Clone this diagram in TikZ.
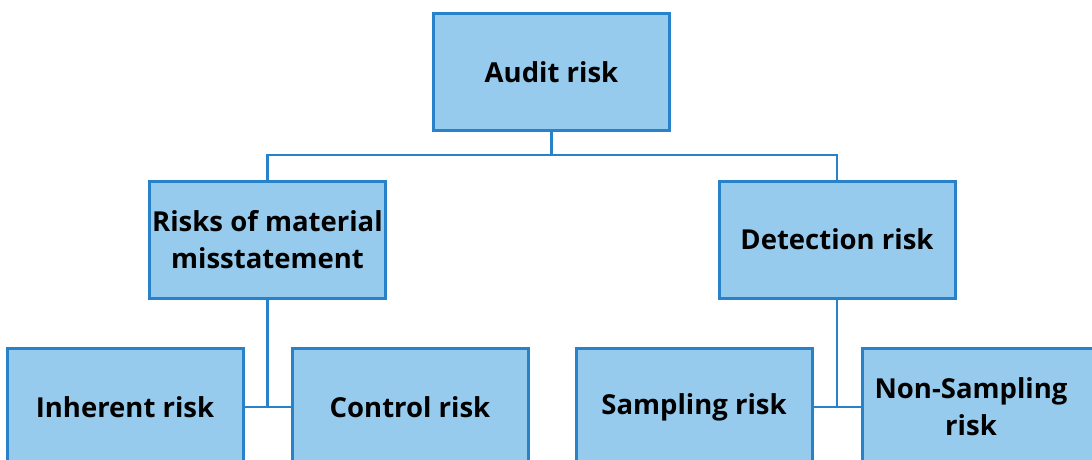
\documentclass[tikz,border=0pt]{standalone}
\usepackage{fontspec}
\setmainfont{Open Sans}
\definecolor{boxfill}{RGB}{151,203,238}
\definecolor{boxline}{RGB}{40,130,202}
\begin{document}
\begin{tikzpicture}[x=1pt,y=-1pt,
  riskbox/.style={draw=boxline, fill=boxfill, line width=3pt, minimum width=236pt, minimum height=117pt, inner sep=0pt, align=center, font=\fontsize{27.5}{37}\selectfont\bfseries},
  link/.style={draw=boxline, line width=2.6pt}]
\useasboundingbox (0,0) rectangle (1092,460);
\clip (0,0) rectangle (1092,460);
\node[riskbox] (audit) at (551.5,72) {Audit risk};
\node[riskbox] (rmm) at (267.5,239.5) {Risks of material\\misstatement};
\node[riskbox] (det) at (837,239.5) {Detection risk};
\node[riskbox] (inh) at (125,407) {Inherent risk};
\node[riskbox] (ctl) at (410,407) {Control risk};
\node[riskbox] (samp) at (694,407) {Sampling risk};
\node[riskbox] (nons) at (980,407) {};
\node[align=center, inner sep=0pt, font=\fontsize{27.5}{37}\selectfont\bfseries] (nonstxt) at (971,407) {Non-Sampling\\risk};
\coordinate (j1) at (551.5,155);
\draw[link] (audit.south) -- (j1);
\draw[link] (rmm.north) |- (j1) -| (det.north);
\draw[link] (rmm.south) -- (rmm.south |- inh.east);
\draw[link] (inh.east) -- (ctl.west);
\draw[link] (det.south) -- (det.south |- samp.east);
\draw[link] (samp.east) -- (nons.west);
\end{tikzpicture}
\end{document}
